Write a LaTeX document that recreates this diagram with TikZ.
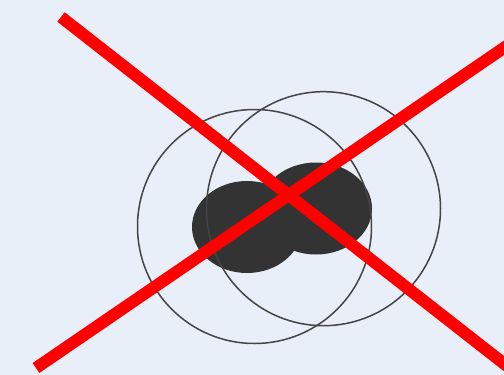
\documentclass[tikz,border=0pt]{standalone}
\usepackage{xcolor}
\definecolor{paper}{HTML}{E8EFF8}
\definecolor{blob}{HTML}{333333}
\definecolor{ring}{HTML}{444444}
\definecolor{cross}{HTML}{FF0000}

\begin{document}
\begin{tikzpicture}[
    x=1pt, y=-1pt,
    blobfill/.style={fill=blob, draw=none},
    ringline/.style={draw=ring, line width=1.5pt},
    crossline/.style={draw=cross, line width=12pt, line cap=butt},
  ]
    % --- canvas ---
    \fill[paper] (0,0) rectangle (504,375);
    \useasboundingbox (0,0) rectangle (504,375);
    \clip (0,0) rectangle (504,375);

    % --- centres ---
    \coordinate (lc) at (254.5,226.5);
    \coordinate (rc) at (323.5,208.7);
    \coordinate (lb) at (247,227);
    \coordinate (rb) at (316,208.5);

    % --- dark blobs ---
    \fill[blobfill] (lb) ellipse [x radius=55, y radius=46];
    \fill[blobfill] (rb) ellipse [x radius=56, y radius=46];

    % --- rings ---
    \draw[ringline] (lc) circle [radius=117];
    \draw[ringline] (rc) circle [radius=117];

    % --- red cross ---
    \coordinate (a1) at (61,17);
    \coordinate (a2) at (530,384);
    \coordinate (b1) at (36,368);
    \coordinate (b2) at (530,30);
    \draw[crossline] (a1) -- (a2);
    \draw[crossline] (b1) -- (b2);
\end{tikzpicture}
\end{document}
